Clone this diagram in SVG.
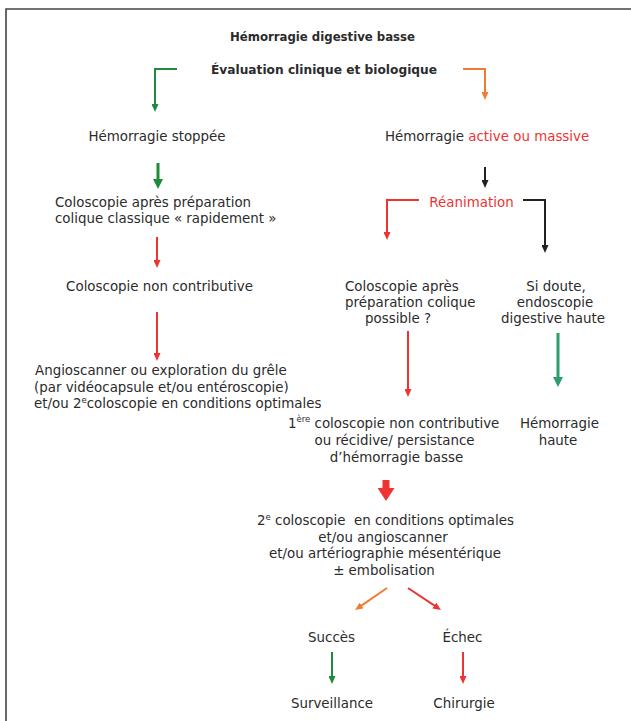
<svg xmlns="http://www.w3.org/2000/svg" width="631" height="721" viewBox="0 0 631 721">
<style>
text{font-family:"DejaVu Sans","Open Sans",sans-serif;font-size:13.4px;fill:#2b2b2b}
.b{font-weight:bold;font-size:12px}
.m{text-anchor:middle}
.red{fill:#ee3333}
.sup{font-size:8.5px}
.ln{fill:none;stroke-width:2}
.thick{fill:none;stroke-width:3}
.g{stroke:#1e8c3c}
.o{stroke:#f47a30}
.r{stroke:#ee3333}
.k{stroke:#222222}
.t{stroke:#2e9c6c}
</style>
<defs>
<marker id="hg" viewBox="0 0 8 7" refX="2" refY="3.5" markerWidth="8" markerHeight="7" markerUnits="userSpaceOnUse" orient="auto"><path d="M0,0 L8,3.5 L0,7 z" fill="#1e8c3c"/></marker>
<marker id="ho" viewBox="0 0 8 7" refX="2" refY="3.5" markerWidth="8" markerHeight="7" markerUnits="userSpaceOnUse" orient="auto"><path d="M0,0 L8,3.5 L0,7 z" fill="#f47a30"/></marker>
<marker id="hr" viewBox="0 0 8 7" refX="2" refY="3.5" markerWidth="8" markerHeight="7" markerUnits="userSpaceOnUse" orient="auto"><path d="M0,0 L8,3.5 L0,7 z" fill="#ee3333"/></marker>
<marker id="hk" viewBox="0 0 8 7" refX="2" refY="3.5" markerWidth="8" markerHeight="7" markerUnits="userSpaceOnUse" orient="auto"><path d="M0,0 L8,3.5 L0,7 z" fill="#222222"/></marker>
<marker id="Mg" viewBox="0 0 10 10" refX="3" refY="5" markerWidth="10" markerHeight="10" markerUnits="userSpaceOnUse" orient="auto"><path d="M0,0 L10,5 L0,10 z" fill="#1e8c3c"/></marker>
<marker id="Mt" viewBox="0 0 10 10" refX="3" refY="5" markerWidth="10" markerHeight="10" markerUnits="userSpaceOnUse" orient="auto"><path d="M0,0 L10,5 L0,10 z" fill="#2e9c6c"/></marker>
<marker id="Br" viewBox="0 0 13 17" refX="1" refY="8.5" markerWidth="13" markerHeight="17" markerUnits="userSpaceOnUse" orient="auto"><path d="M0,0 L13,8.5 L0,17 z" fill="#ee3333"/></marker>
</defs>

<g id="frame">
<path d="M6,721 V9 H631" fill="none" stroke="#444" stroke-width="1.6"/>
</g>

<g id="connectors">
<path class="ln g" d="M177,69 H155 V106" marker-end="url(#hg)"/>
<path class="ln o" d="M463,69 H485 V94" marker-end="url(#ho)"/>
<path class="thick g" d="M158,163 V182" marker-end="url(#Mg)"/>
<path class="ln k" d="M485,167 V182" marker-end="url(#hk)"/>
<path class="ln r" d="M419,200 H387 V234" marker-end="url(#hr)"/>
<path class="ln k" stroke-width="2.4" d="M523,200 H545 V247" marker-end="url(#hk)"/>
<path class="ln r" d="M157,237 V262" marker-end="url(#hr)"/>
<path class="ln r" d="M157,312 V355" marker-end="url(#hr)"/>
<path class="ln r" d="M408,331 V391" marker-end="url(#hr)"/>
<path class="thick t" d="M558,333 V380" marker-end="url(#Mt)"/>
<path fill="none" stroke="#ee3333" stroke-width="7" d="M386,480 V489" marker-end="url(#Br)"/>
<path class="ln o" d="M387,588 L360,606.6" marker-end="url(#ho)"/>
<path class="ln r" d="M408,588 L436,606.7" marker-end="url(#hr)"/>
<path class="ln g" d="M332,652 V678" marker-end="url(#hg)"/>
<path class="ln r" d="M463,652 V678" marker-end="url(#hr)"/>
</g>

<g id="title"><text class="b m" x="322.5" y="40.5" textLength="185" lengthAdjust="spacingAndGlyphs">Hémorragie digestive basse</text></g>
<g id="evaluation"><text class="b m" x="324" y="74" textLength="226" lengthAdjust="spacingAndGlyphs">Évaluation clinique et biologique</text></g>
<g id="stoppee"><text class="m" x="157" y="141">Hémorragie stoppée</text></g>
<g id="active"><text x="385" y="141">Hémorragie <tspan class="red">active ou massive</tspan></text></g>
<g id="colo-rapide">
<text x="55" y="207">Coloscopie après préparation</text>
<text x="55" y="223">colique classique « rapidement »</text>
</g>
<g id="reanimation"><text class="m red" x="471.5" y="207">Réanimation</text></g>
<g id="colo-nc"><text class="m" x="159.5" y="291">Coloscopie non contributive</text></g>
<g id="colo-possible">
<text x="345" y="291">Coloscopie après</text>
<text x="345" y="307">préparation colique</text>
<text x="365" y="323">possible ?</text>
</g>
<g id="si-doute">
<text class="m" x="556" y="291">Si doute,</text>
<text class="m" x="555" y="307">endoscopie</text>
<text class="m" x="553" y="323">digestive haute</text>
</g>
<g id="angioscanner">
<text x="35" y="375">Angioscanner ou exploration du grêle</text>
<text x="34" y="392">(par vidéocapsule et/ou entéroscopie)</text>
<text x="34" y="408">et/ou 2<tspan class="sup" dy="-5">e</tspan><tspan dy="5">coloscopie en conditions optimales</tspan></text>
</g>
<g id="premiere">
<text x="288" y="428">1<tspan class="sup" dy="-6">ère</tspan><tspan dy="6"> coloscopie non contributive</tspan></text>
<text class="m" x="394.5" y="445">ou récidive/ persistance</text>
<text class="m" x="396.5" y="461.5">d’hémorragie basse</text>
</g>
<g id="hem-haute">
<text class="m" x="559.5" y="428">Hémorragie</text>
<text class="m" x="558" y="445">haute</text>
</g>
<g id="deuxieme">
<text class="m" x="385.5" y="525" xml:space="preserve">2<tspan class="sup" dy="-5">e</tspan><tspan dy="5"> coloscopie  en conditions optimales</tspan></text>
<text class="m" x="383" y="542">et/ou angioscanner</text>
<text class="m" x="385" y="558">et/ou artériographie mésentérique</text>
<text class="m" x="384" y="574.5">± embolisation</text>
</g>
<g id="succes"><text class="m" x="331.5" y="642">Succès</text></g>
<g id="echec"><text class="m" x="462.5" y="642">Échec</text></g>
<g id="surveillance"><text class="m" x="332" y="708">Surveillance</text></g>
<g id="chirurgie"><text class="m" x="464" y="708">Chirurgie</text></g>
</svg>
